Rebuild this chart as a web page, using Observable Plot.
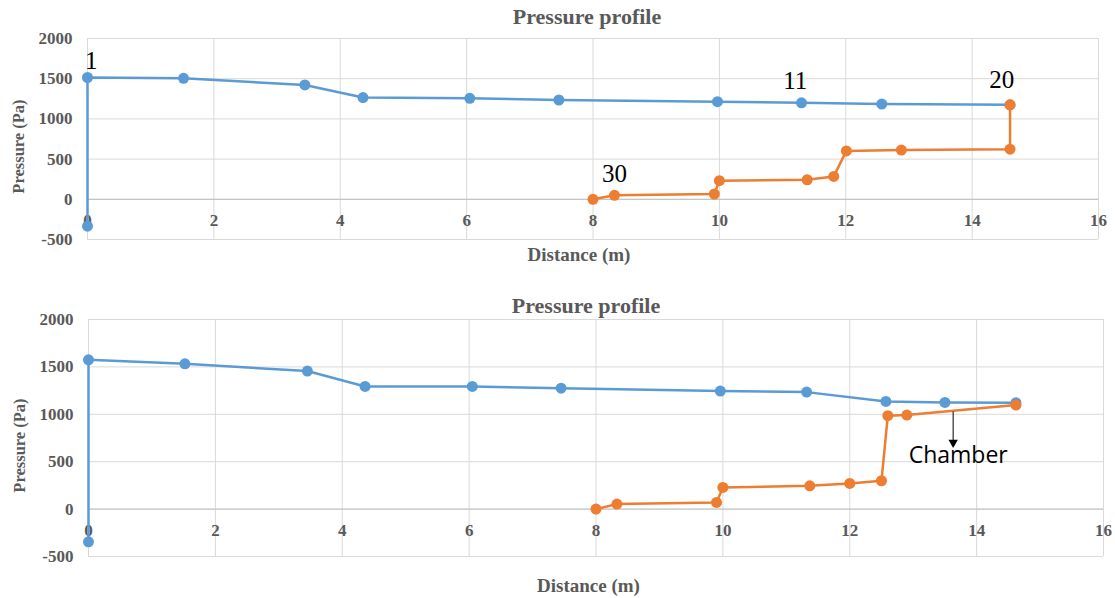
<!DOCTYPE html>
<html>
<head>
<meta charset="utf-8">
<script src="https://cdn.jsdelivr.net/npm/d3@7"></script>
<script src="https://cdn.jsdelivr.net/npm/@observablehq/plot@0.6"></script>
<style>
  body { margin: 0; background: #fff; }
  #chart { width: 1115px; height: 598px; background: #fff; }
  #chart svg { display: block; }
</style>
</head>
<body>
<div id="chart"></div>
<script>
// ---- data ----
const xTicks = [0, 2, 4, 6, 8, 10, 12, 14, 16];
const yTicks = [-500, 0, 500, 1000, 1500, 2000];
const titleText = "Pressure profile";
const xTitle = "Distance (m)";
const yTitle = "Pressure (Pa)";

// top chart
const topBlueX = [0, 0, 1.52, 3.44, 4.36, 6.05, 7.46, 9.97, 11.30, 12.57, 14.60];
const topBlueY = [-335, 1515, 1505, 1422, 1265, 1256, 1235, 1214, 1200, 1184, 1175];
const topOrangeX = [14.60, 14.60, 12.88, 12.01, 11.81, 11.39, 10.00, 9.92, 8.34, 8.00];
const topOrangeY = [1175, 623, 612, 602, 285, 243, 231, 66, 50, 0];
const topLabels = ["1", "11", "20", "30"];
const topLabelX = [0.06, 11.2, 14.47, 8.34];
const topLabelY = [1725, 1476, 1485, 316];

// bottom chart
const botBlueX = [0, 0, 1.52, 3.45, 4.36, 6.05, 7.45, 9.96, 11.32, 12.57, 13.50, 14.62];
const botBlueY = [-345, 1575, 1533, 1456, 1294, 1294, 1275, 1245, 1234, 1136, 1125, 1122];
const botOrangeX = [14.62, 12.90, 12.60, 12.50, 12.00, 11.37, 10.00, 9.90, 8.33, 8.00];
const botOrangeY = [1097, 992, 985, 299, 271, 246, 229, 70, 53, 0];
const chamberText = ["Chamber"];
const chamberX = [13.71];
const chamberY = [565];
const arrowX = [13.63];
const arrowY1 = [1030];
const arrowY2 = [660];

// ---- styling ----
const BLUE = "#5B9BD5", ORANGE = "#ED7D31", GRID = "#D9D9D9", AXIS = "#BFBFBF", TXT = "#595959";
const SERIF = "Liberation Serif";

const rows = (xs, ys) => xs.map((x, i) => ({x, y: ys[i]}));

function chart({height, mt, mb, ml, mr, blue, orange, extra, titleDx, titleDy, xtDx, xtDy, ytDy}) {
  return Plot.plot({
    width: 1115, height,
    marginTop: mt, marginBottom: mb, marginLeft: ml, marginRight: mr,
    x: {domain: [0, 16], axis: null},
    y: {domain: [-500, 2000], axis: null},
    style: {background: "#fff", overflow: "visible"},
    marks: [
      Plot.ruleX(xTicks, {stroke: GRID, strokeWidth: 1}),
      Plot.ruleY(yTicks, {stroke: GRID, strokeWidth: 1}),
      Plot.ruleY([0], {stroke: AXIS, strokeWidth: 1}),
      Plot.text(yTicks, {y: d => d, text: d => String(d), frameAnchor: "left", dx: -15, textAnchor: "end",
        fill: TXT, fontFamily: SERIF, fontWeight: "bold", fontSize: 17}),
      Plot.text(xTicks, {x: d => d, y: 0, text: d => String(d), dy: 21,
        fill: TXT, fontFamily: SERIF, fontWeight: "bold", fontSize: 17}),
      Plot.text([titleText], {text: d => d, frameAnchor: "top", dx: titleDx, dy: titleDy,
        fill: TXT, fontFamily: SERIF, fontWeight: "bold", fontSize: 22}),
      Plot.text([xTitle], {text: d => d, frameAnchor: "bottom", dx: xtDx, dy: xtDy,
        fill: TXT, fontFamily: SERIF, fontWeight: "bold", fontSize: 19}),
      Plot.text([yTitle], {text: d => d, frameAnchor: "left", textAnchor: "middle", lineAnchor: "middle",
        rotate: -90, dx: -69, dy: ytDy,
        fill: TXT, fontFamily: SERIF, fontWeight: "bold", fontSize: 16.5}),
      Plot.line(blue, {x: "x", y: "y", stroke: BLUE, strokeWidth: 2.5}),
      Plot.dot(blue, {x: "x", y: "y", r: 5.5, fill: BLUE}),
      Plot.line(orange, {x: "x", y: "y", stroke: ORANGE, strokeWidth: 2.5}),
      Plot.dot(orange, {x: "x", y: "y", r: 5.5, fill: ORANGE}),
      ...extra
    ]
  });
}

const topExtra = [
  Plot.text(topLabels, {x: (d, i) => topLabelX[i], y: (d, i) => topLabelY[i], text: d => d,
    fill: "#000", fontFamily: SERIF, fontSize: 25})
];
const botExtra = [
  Plot.link(arrowX, {x1: d => d, x2: d => d, y1: (d, i) => arrowY1[i], y2: (d, i) => arrowY2[i] + 40, stroke: "#000", strokeWidth: 1}),
  Plot.dot(arrowX, {x: d => d, y: (d, i) => arrowY2[i], symbol: "triangle", rotate: 180, r: 3.5, fill: "#000", stroke: "none", dy: -4}),
  Plot.text(chamberText, {x: (d, i) => chamberX[i], y: (d, i) => chamberY[i], text: d => d,
    fill: "#000", fontFamily: "Open Sans", fontSize: 23})
];

const el = document.getElementById("chart");
el.append(chart({height: 280, mt: 38, mb: 41, ml: 87, mr: 17,
  blue: rows(topBlueX, topBlueY), orange: rows(topOrangeX, topOrangeY), extra: topExtra,
  titleDx: -6, titleDy: -30, xtDx: -14, xtDy: 21, ytDy: 7.5}));
el.append(chart({height: 318, mt: 39, mb: 42, ml: 88, mr: 12,
  blue: rows(botBlueX, botBlueY), orange: rows(botOrangeX, botOrangeY), extra: botExtra,
  titleDx: -10, titleDy: -22, xtDx: -7.5, xtDy: 35, ytDy: 7.5}));
</script>
</body>
</html>
